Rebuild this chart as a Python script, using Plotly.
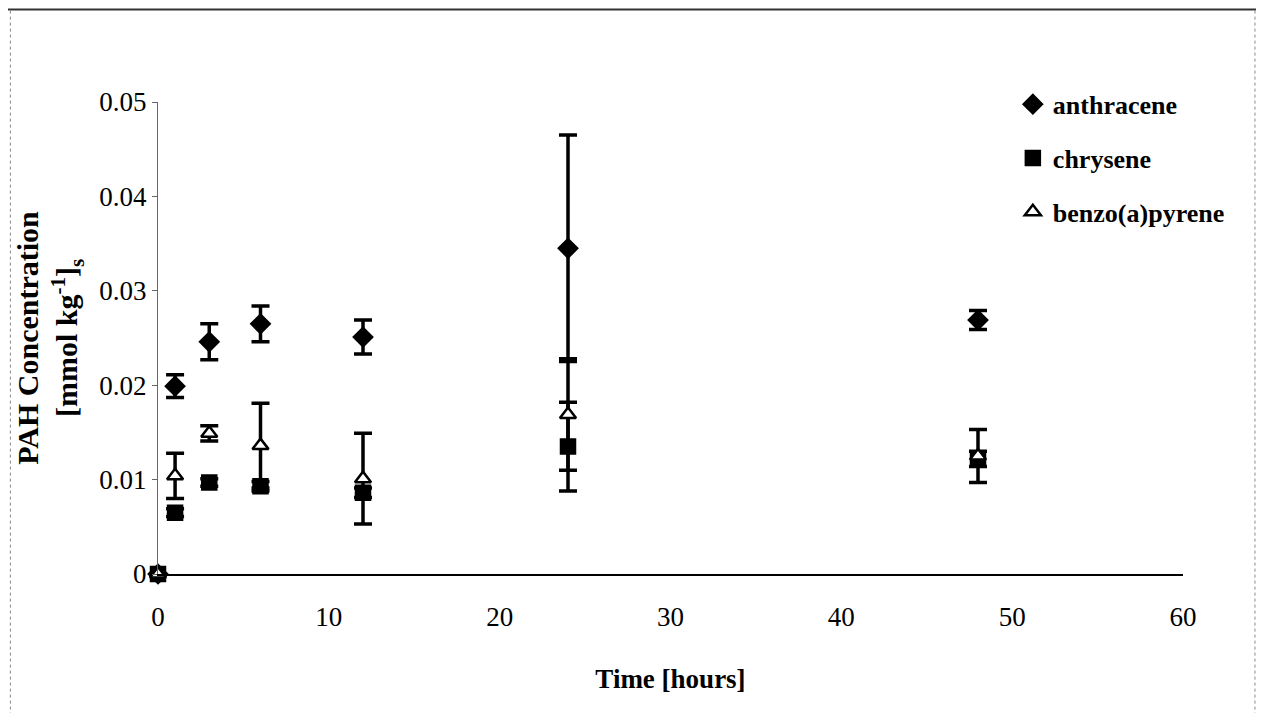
import plotly.graph_objects as go

# ---- data ----
time_h = [0, 1, 3, 6, 12, 24, 48]

anthracene = [0.0, 0.0199, 0.0246, 0.0265, 0.0251, 0.0345, 0.0269]
anthracene_err = [0.0, 0.0012, 0.0019, 0.0019, 0.0018, 0.0120, 0.0010]

chrysene = [0.0, 0.0065, 0.0097, 0.0093, 0.0086, 0.0135, 0.0122]
chrysene_err = [0.0, 0.0004, 0.0004, 0.0005, 0.0005, 0.0047, 0.0008]

benzo_a_pyrene = [0.0, 0.0104, 0.0149, 0.0136, 0.0101, 0.0169, 0.0125]
benzo_a_pyrene_err = [0.0, 0.0024, 0.0008, 0.0045, 0.0048, 0.0059, 0.0028]

x_ticks = [0, 10, 20, 30, 40, 50, 60]
y_ticks = [0, 0.01, 0.02, 0.03, 0.04, 0.05]
y_ticktext = ["0", "0.01", "0.02", "0.03", "0.04", "0.05"]

series_names = ["anthracene", "chrysene", "benzo(a)pyrene"]

FONT = "Liberation Serif"

fig = go.Figure()

def add(name, y, err, symbol, fill, size):
    fig.add_trace(go.Scatter(
        x=time_h, y=y, name=name, mode="markers", legendgroup=name,
        cliponaxis=False,
        marker=dict(symbol=symbol, size=size,
                    color=fill, line=dict(color="black", width=2.5)),
        error_y=dict(type="data", array=err, visible=True,
                     color="black", thickness=3.5, width=9),
    ))

add(series_names[0], anthracene, anthracene_err, "diamond", "black", 14)
add(series_names[1], chrysene, chrysene_err, "square", "black", 14)
add(series_names[2], benzo_a_pyrene, benzo_a_pyrene_err, "triangle-up", "white", 14)

fig.update_layout(
    width=1264, height=713,
    margin=dict(l=150, r=89, t=94, b=147),
    paper_bgcolor="white", plot_bgcolor="white",
    font=dict(family=FONT, color="black", size=26),
    showlegend=True,
    legend=dict(x=0.834, y=1.045, xanchor="left", yanchor="top",
                font=dict(family=FONT, size=26, weight="bold"),
                itemsizing="trace", tracegroupgap=17,
                bgcolor="rgba(0,0,0,0)", itemwidth=30),
    xaxis=dict(
        range=[0, 60], tickvals=x_ticks, ticktext=[str(v) for v in x_ticks],
        showgrid=False, zeroline=False, showline=True, linecolor="black",
        linewidth=2, ticks="", ticklabelstandoff=18,
        tickfont=dict(family=FONT, size=27),
        title=dict(text="<b>Time [hours]</b>", font=dict(family=FONT, size=27),
                   standoff=38),
    ),
    yaxis=dict(
        range=[0, 0.05], tickvals=y_ticks, ticktext=y_ticktext,
        showgrid=False, zeroline=False, showline=True, linecolor="#666",
        linewidth=1, ticks="outside", ticklen=5, tickcolor="#666",
        tickfont=dict(family=FONT, size=27),
        title=dict(text="<b>PAH Concentration<br>[mmol kg<sup>-1</sup>]<sub>s</sub></b>",
                   font=dict(family=FONT, size=30), standoff=12),
    ),
)

# chart-area frame like the scanned original
fig.add_shape(type="line", xref="paper", yref="paper",
              x0=-0.147, x1=1.072, y0=1.196, y1=1.196,
              line=dict(color="#333", width=2))
fig.add_shape(type="line", xref="paper", yref="paper",
              x0=-0.144, x1=-0.144, y0=-0.3, y1=1.196,
              line=dict(color="#888", width=1, dash="dot"))
fig.add_shape(type="line", xref="paper", yref="paper",
              x0=1.0702, x1=1.0702, y0=-0.3, y1=1.196,
              line=dict(color="#888", width=1, dash="dot"))

fig.write_html("out.html")
